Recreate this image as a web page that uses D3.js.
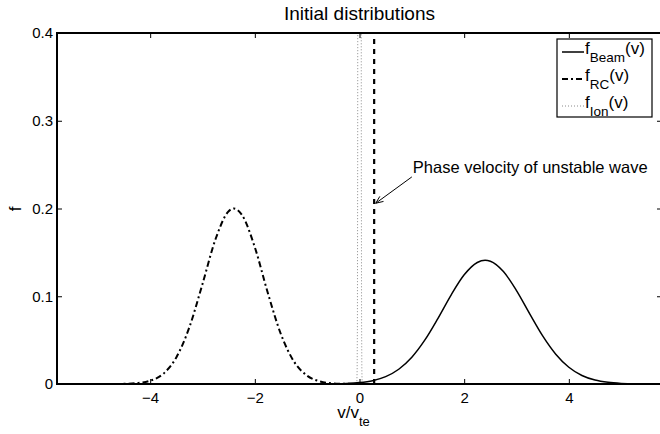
<!DOCTYPE html>
<html><head><meta charset="utf-8">
<script src="https://cdn.jsdelivr.net/npm/d3@7"></script>
<style>
body{margin:0;background:#fff}
svg{display:block}
text{font-family:"Liberation Sans",Arial,Helvetica,sans-serif;fill:#000}
</style>
</head><body>
<svg id="chart" width="660" height="434"></svg>
<script>
// ---- data ----
const vGrid = [-5.75,-5.5,-5.25,-5,-4.75,-4.5,-4.25,-4,-3.75,-3.5,-3.25,-3,-2.75,-2.5,-2.4,-2.25,-2,-1.75,-1.5,-1.25,-1,-0.75,-0.5,-0.25,0,0.25,0.5,0.75,1,1.25,1.5,1.75,2,2.25,2.4,2.5,2.75,3,3.25,3.5,3.75,4,4.25,4.5,4.75,5,5.25,5.5,5.75];
const fBeam = [0,0,0,0,0,0,0,0,0,0,0,0,0,0,0,0,0,0,0,0,0,0,0.0002,0.0006,0.0016,0.0038,0.0084,0.0168,0.0305,0.0502,0.0749,0.1014,0.1244,0.1385,0.141,0.1399,0.1281,0.1064,0.0802,0.0548,0.0340,0.0191,0.0097,0.0045,0.0019,0.0007,0.0002,0.0001,0];
const fRC   = [0,0,0,0,0,0.0002,0.0010,0.0037,0.0116,0.0303,0.0648,0.1140,0.1652,0.1969,0.2,0.1931,0.1558,0.1034,0.0565,0.0254,0.0094,0.0029,0.0007,0.0002,0,0,0,0,0,0,0,0,0,0,0,0,0,0,0,0,0,0,0,0,0,0,0,0,0];
const vIon  = [-5.75,-0.08,-0.05,-0.045,-0.04,-0.035,-0.03,-0.02,0,0.02,0.03,0.035,0.04,0.045,0.05,0.08,5.75];
const fIon  = [0,0,0.003,0.0155,0.0675,0.25,0.76,4.4,17.5,4.4,0.76,0.25,0.0675,0.0155,0.003,0,0];
const phaseVelocity = 0.28;
const xTicks = [-4,-2,0,2,4];
const yTicks = [0,0.1,0.2,0.3,0.4];
const xDomain = [-5.78,5.78];
const yDomain = [0,0.4];
const legendMain = ["f","f","f"];
const legendSub  = ["Beam","RC","Ion"];
const titleText = "Initial distributions";
const annotationText = "Phase velocity of unstable wave";
const annotationTail = [1.0, 0.236];
const annotationTip  = [0.31, 0.206];

// ---- layout ----
const svg = d3.select("#chart");
const L = 57, R = 662, T = 33, B = 384;
const x = d3.scaleLinear().domain(xDomain).range([L, R]);
const y = d3.scaleLinear().domain(yDomain).range([B, T]);

svg.append("clipPath").attr("id","clip").append("rect")
  .attr("x",L).attr("y",T).attr("width",R-L).attr("height",B-T);

const plot = svg.append("g").attr("clip-path","url(#clip)");
const line = d3.line().x(d=>x(d[0])).y(d=>y(d[1])).curve(d3.curveMonotoneX);

// ion (dotted, grey)
plot.append("path")
  .datum(vIon.map((v,i)=>[v,fIon[i]]))
  .attr("d", d3.line().x(d=>x(d[0])).y(d=>y(d[1])))
  .attr("fill","none").attr("stroke","#8a8a8a").attr("stroke-width",1)
  .attr("stroke-dasharray","1,2");

// RC (dash-dot)
plot.append("path")
  .datum(vGrid.map((v,i)=>[v,fRC[i]]))
  .attr("d", line)
  .attr("fill","none").attr("stroke","#000").attr("stroke-width",2)
  .attr("stroke-dasharray","6,3,2,3");

// beam (solid)
plot.append("path")
  .datum(vGrid.map((v,i)=>[v,fBeam[i]]))
  .attr("d", line)
  .attr("fill","none").attr("stroke","#000").attr("stroke-width",1.5);

// phase velocity line
plot.append("line")
  .attr("x1",x(phaseVelocity)).attr("x2",x(phaseVelocity))
  .attr("y1",y(0)).attr("y2",y(0.4))
  .attr("stroke","#000").attr("stroke-width",2.2).attr("stroke-dasharray","5,5");

// axes
const fmtY = d => d===0 ? "0" : d3.format(".1f")(d);
const gx = svg.append("g").attr("transform",`translate(0,${B})`)
  .call(d3.axisBottom(x).tickValues(xTicks).tickSizeInner(-5).tickSizeOuter(0).tickPadding(8).tickFormat(d3.format("d")));
const gxt = svg.append("g").attr("transform",`translate(0,${T})`)
  .call(d3.axisTop(x).tickValues(xTicks).tickSizeInner(-5).tickSizeOuter(0).tickFormat(""));
const gy = svg.append("g").attr("transform",`translate(${L},0)`)
  .call(d3.axisLeft(y).tickValues(yTicks).tickSizeInner(-5).tickSizeOuter(0).tickPadding(4).tickFormat(fmtY));
const gyr = svg.append("g").attr("transform",`translate(${R},0)`)
  .call(d3.axisRight(y).tickValues(yTicks).tickSizeInner(-5).tickSizeOuter(0).tickFormat(""));
[gx,gxt,gy,gyr].forEach(g=>{
  g.select(".domain").remove();
  g.selectAll(".tick line").attr("stroke","#000").attr("stroke-width",1);
  g.selectAll(".tick text").attr("font-size",15).attr("font-family","Liberation Sans, Arial, sans-serif").attr("fill","#000");
});
svg.append("rect").attr("x",L).attr("y",T).attr("width",R-L).attr("height",B-T)
  .attr("fill","none").attr("stroke","#000").attr("stroke-width",2);

// title
svg.append("text").attr("x",(L+R)/2).attr("y",20).attr("text-anchor","middle")
  .attr("font-size",19).text(titleText);

// axis labels
const xl = svg.append("text").attr("x",(L+R)/2 - 6).attr("y",418).attr("text-anchor","middle").attr("font-size",17);
xl.append("tspan").text("v/v");
xl.append("tspan").attr("dy",8).attr("font-size",13).text("te");
svg.append("text").attr("transform","translate(21,209) rotate(-90)")
  .attr("text-anchor","middle").attr("font-size",17).text("f");

// annotation
const tail = [x(annotationTail[0]), y(annotationTail[1])];
const tip  = [x(annotationTip[0]), y(annotationTip[1])];
svg.append("line").attr("x1",tail[0]).attr("y1",tail[1]).attr("x2",tip[0]).attr("y2",tip[1])
  .attr("stroke","#000").attr("stroke-width",1);
const ang = Math.atan2(tip[1]-tail[1], tip[0]-tail[0]);
const hl = 8, hw = 0.4;
svg.append("path")
  .attr("d",`M${tip[0]-hl*Math.cos(ang-hw)},${tip[1]-hl*Math.sin(ang-hw)} L${tip[0]},${tip[1]} L${tip[0]-hl*Math.cos(ang+hw)},${tip[1]-hl*Math.sin(ang+hw)}`)
  .attr("fill","none").attr("stroke","#000").attr("stroke-width",1);
svg.append("text").attr("x",tail[0]+1).attr("y",tail[1]-4).attr("font-size",16.5).text(annotationText);

// legend
const lg = svg.append("g");
const LX = 557, LY = 39, LW = 95, LH = 78;
lg.append("rect").attr("x",LX).attr("y",LY).attr("width",LW).attr("height",LH)
  .attr("fill","#fff").attr("stroke","#000").attr("stroke-width",1.2);
const rowY = [52, 79, 106];
const styles = [
  {stroke:"#000", w:1.5, dash:null},
  {stroke:"#000", w:2, dash:"6,3,2,3"},
  {stroke:"#8a8a8a", w:1, dash:"1,2"}
];
legendMain.forEach((m,i)=>{
  const s = styles[i];
  const ln = lg.append("line").attr("x1",LX+5).attr("x2",LX+27).attr("y1",rowY[i]).attr("y2",rowY[i])
    .attr("stroke",s.stroke).attr("stroke-width",s.w);
  if (s.dash) ln.attr("stroke-dasharray",s.dash);
  const t = lg.append("text").attr("x",LX+28).attr("y",rowY[i]+2).attr("font-size",17);
  t.append("tspan").text(m);
  t.append("tspan").attr("dy",8).attr("font-size",13.5).text(legendSub[i]);
  t.append("tspan").attr("dy",-8).attr("font-size",17).text("(v)");
});
</script>
</body></html>
